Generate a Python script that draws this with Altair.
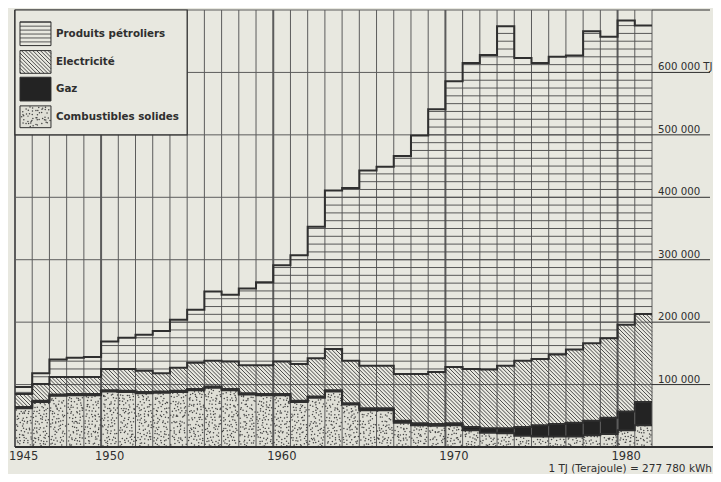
import math
import altair as alt
import pandas as pd

# ---------------- data (thousands of TJ) ----------------
years = list(range(1945, 1982))
solides = [62, 72, 82, 83, 83, 89, 88, 86, 87, 88, 91, 95, 91, 84, 83, 83, 72, 79, 89, 68,
           59, 59, 39, 35, 34, 35, 27, 23, 22, 18, 17, 17, 17, 19, 21, 27, 35]
gaz = [2] * 20 + [3, 3, 3, 3, 3, 3, 5, 7, 8, 14, 18, 20, 22, 23, 26, 30, 37]
electricite = [21, 27, 28, 27, 27, 34, 35, 34, 29, 37, 42, 41, 44, 45, 46, 52, 59, 61, 66, 68,
               68, 68, 75, 79, 83, 90, 93, 94, 100, 106, 106, 111, 117, 124, 127, 139, 141]
petrole = [11, 17, 28, 31, 32, 44, 50, 58, 68, 77, 85, 111, 107, 123, 133, 154, 174, 211, 254, 277,
           313, 319, 349, 382, 421, 458, 490, 504, 544, 485, 474, 477, 471, 500, 483, 487, 462]

series_names = ["Combustibles solides", "Gaz", "Electricité", "Produits pétroliers"]
legend_order = ["Produits pétroliers", "Electricité", "Gaz", "Combustibles solides"]
x_ticks = [1945, 1950, 1960, 1970, 1980]
y_ticks = [0, 100000, 200000, 300000, 400000, 500000, 600000, 700000]
y_label_values = [100000, 200000, 300000, 400000, 500000, 600000]
y_labels = ["100 000", "200 000", "300 000", "400 000", "500 000", "600 000 TJ"]
footnote = "1 TJ (Terajoule) = 277 780 kWh"

# ---------------- geometry / style ----------------
W, H = 637, 437
X0, X1 = 1945, 1982
YMAX = 700000
PXX = W / (X1 - X0)
PXY = H / YMAX
PAD = {"left": 7, "top": 2, "right": 61, "bottom": 27}

BG = "#e8e8e0"
INK = "#2f2f2f"
GRID = "#5c5c5c"
SOLID_FILL = "#dfdfd6"
GAS_FILL = "#232323"

# ---------------- stacked table ----------------
rows = []
for i, yr in enumerate(years):
    base = 0
    for name, vals in zip(series_names, [solides, gaz, electricite, petrole]):
        v = vals[i] * 1000
        rows.append(dict(year=yr, year_end=yr + 1, serie=name, y0=base, y1=base + v))
        base += v
stack = pd.DataFrame(rows)

orows = []
for name in series_names:
    sub = stack[stack.serie == name]
    k = 0
    for _, r in sub.iterrows():
        orows.append(dict(b=name, k=k, x=r.year, v=r.y1)); k += 1
        orows.append(dict(b=name, k=k, x=r.year_end, v=r.y1)); k += 1
outline = pd.DataFrame(orows)


# ---------------- textures ----------------
def hlines(xa, xb, va, vb, step=12500):
    out = []
    lv = (math.floor(va / step) + 1) * step
    while lv < vb - 1:
        out.append(dict(x=xa, x2=xb, y=lv))
        lv += step
    return out


def diag(xa, xb, va, vb, s=3.8):
    ax, bx = (xa - X0) * PXX, (xb - X0) * PXX
    av, bv = va * PXY, vb * PXY
    out = []
    c = math.ceil((ax + av) / s) * s
    while c < bx + bv:
        x1 = max(ax, c - bv)
        x2 = min(bx, c - av)
        if x2 - x1 > 0.3:
            out.append(dict(x=x1 / PXX + X0, y=(c - x1) / PXY,
                            x2=x2 / PXX + X0, y2=(c - x2) / PXY))
        c += s
    return out


def hashf(i, j, k):
    t = math.sin(i * 12.9898 + j * 78.233 + k * 37.719) * 43758.5453
    return t - math.floor(t)


def dots(xa, xb, va, vb, s=3.3):
    ax, bx = (xa - X0) * PXX, (xb - X0) * PXX
    av, bv = va * PXY, vb * PXY
    out = []
    for j in range(math.floor(av / s), math.ceil(bv / s) + 1):
        off = (j % 2) * s / 2
        for i in range(math.floor((ax - off) / s), math.ceil((bx - off) / s) + 1):
            px = i * s + off + (hashf(i, j, 1) - 0.5) * s * 0.9
            py = j * s + (hashf(i, j, 2) - 0.5) * s * 0.9
            if ax + 0.7 < px < bx - 0.7 and av + 0.7 < py < bv - 0.7:
                out.append(dict(x=px / PXX + X0, y=py / PXY))
    return out


hl, dg, dt = [], [], []
for _, r in stack.iterrows():
    if r.serie == "Produits pétroliers":
        hl += hlines(r.year, r.year_end, r.y0, r.y1)
    elif r.serie == "Electricité":
        dg += diag(r.year, r.year_end, r.y0, r.y1)
    elif r.serie == "Combustibles solides":
        dt += dots(r.year, r.year_end, r.y0, r.y1)

# legend (positions in data units of the chart)
lx0, lx1 = 1945.29, 1947.09
sw = {
    "Produits pétroliers": (643000, 681000, 662000),
    "Electricité": (598600, 635000, 616900),
    "Gaz": (554300, 592300, 573300),
    "Combustibles solides": (511500, 546400, 529000),
}
leg_rows = []
for name in legend_order:
    a, b, m = sw[name]
    leg_rows.append(dict(serie=name, x=lx0, x2=lx1, y=a, y2=b, tx=1947.38, ty=m))
leg = pd.DataFrame(leg_rows)
a, b, _ = sw["Produits pétroliers"]
hl += hlines(lx0, lx1, a, b, step=6300)
a, b, _ = sw["Electricité"]
dg += diag(lx0, lx1, a, b)
a, b, _ = sw["Combustibles solides"]
dt += dots(lx0, lx1, a, b)

hl = pd.DataFrame(hl)
dg = pd.DataFrame(dg)
dt = pd.DataFrame(dt)

vgrid = pd.DataFrame(dict(gx=list(range(X0, X1 + 1))))
vgrid["gw"] = [2.0 if (g % 10 == 0 or g == X0) else 1.0 for g in vgrid.gx]
hgrid = pd.DataFrame(dict(gy=y_ticks[1:]))
ticks_df = pd.DataFrame(dict(gy=y_ticks))
xlab = pd.DataFrame(dict(yr=x_ticks, xm=[t + 0.5 for t in x_ticks], lab=[str(t) for t in x_ticks]))
ylab = pd.DataFrame(dict(v=y_label_values, lab=y_labels))
legbox = pd.DataFrame(dict(x=[1945], x2=[1955], y=[500000], y2=[700000]))
foot = pd.DataFrame(dict(t=[footnote]))

xs = alt.Scale(domain=[X0, X1], nice=False, zero=False)
ys = alt.Scale(domain=[0, YMAX], nice=False, zero=False)
fill_scale = alt.Scale(domain=series_names, range=[SOLID_FILL, GAS_FILL, BG, BG])


def X(f):
    return alt.X(f, scale=xs, axis=None, title=None)


def Y(f):
    return alt.Y(f, scale=ys, axis=None, title=None)


fills = alt.Chart(stack).mark_rect().encode(
    x=X("year:Q"), x2="year_end:Q", y=Y("y0:Q"), y2="y1:Q",
    fill=alt.Fill("serie:N", legend=None, scale=fill_scale))

vg = alt.Chart(vgrid).mark_rule(color=GRID).encode(
    x=X("gx:Q"), y=alt.value(0), y2=alt.value(H),
    strokeWidth=alt.StrokeWidth("gw:Q", scale=None))
hg = alt.Chart(hgrid).mark_rule(color=GRID, strokeWidth=1).encode(
    y=Y("gy:Q"), x=alt.value(0), x2=alt.value(W))
tick_ext = alt.Chart(ticks_df).mark_rule(color=INK, strokeWidth=1).encode(
    y=Y("gy:Q"), x=alt.value(W), x2=alt.value(W + 58))

box = alt.Chart(legbox).mark_rect(fill=BG, stroke=INK, strokeWidth=1.2).encode(
    x=X("x:Q"), x2="x2:Q", y=Y("y:Q"), y2="y2:Q")

swfill = alt.Chart(leg).mark_rect().encode(
    x=X("x:Q"), x2="x2:Q", y=Y("y:Q"), y2="y2:Q",
    fill=alt.Fill("serie:N", legend=None, scale=fill_scale))

hlm = alt.Chart(hl).mark_rule(color="#474747", strokeWidth=0.9).encode(
    x=X("x:Q"), x2="x2:Q", y=Y("y:Q"))
dgm = alt.Chart(dg).mark_rule(color="#3a3a3a", strokeWidth=0.9).encode(
    x=X("x:Q"), x2="x2:Q", y=Y("y:Q"), y2="y2:Q")
dtm = alt.Chart(dt).mark_circle(color="#3a3a3a", size=2.2, opacity=0.95).encode(
    x=X("x:Q"), y=Y("y:Q"))

ol = alt.Chart(outline).mark_line(color=INK, strokeWidth=2, strokeJoin="miter").encode(
    x=X("x:Q"), y=Y("v:Q"), detail="b:N", order="k:Q")

base_line = alt.Chart(foot).mark_rule(color=INK, strokeWidth=2).encode(
    x=alt.value(0), x2=alt.value(W + PAD["right"]), y=alt.value(H))

swbox = alt.Chart(leg).mark_rect(fill=None, stroke=INK, strokeWidth=1).encode(
    x=X("x:Q"), x2="x2:Q", y=Y("y:Q"), y2="y2:Q")

legtext = alt.Chart(leg).mark_text(align="left", baseline="middle", font="DejaVu Sans",
                                   fontWeight="bold", fontSize=10.3, color=INK).encode(
    x=X("tx:Q"), y=Y("ty:Q"), text="serie:N")

xtext = alt.Chart(xlab).mark_text(align="center", baseline="alphabetic", font="DejaVu Sans",
                                  fontSize=11.5, color=INK).encode(
    x=X("xm:Q"), y=alt.value(H + 12.5), text="lab:N")

ytext = alt.Chart(ylab).mark_text(align="left", baseline="alphabetic", font="DejaVu Sans",
                                  fontSize=10.2, color=INK, dy=-2).encode(
    x=alt.value(W + 6), y=Y("v:Q"), text="lab:N")

foottext = alt.Chart(foot).mark_text(align="right", baseline="alphabetic", font="DejaVu Sans",
                                     fontSize=10.5, color=INK).encode(
    x=alt.value(W + PAD["right"] - 1), y=alt.value(H + 24.8), text="t:N")

chart = alt.layer(
    fills, vg, hg, tick_ext, box, swfill, hlm, dgm, dtm, ol, base_line, swbox,
    legtext, xtext, ytext, foottext
).properties(
    width=W, height=H,
    padding=PAD,
    autosize=alt.AutoSizeParams(type="none"),
    background=BG,
).configure_view(stroke=None)

chart.save("out.html", embed_options={"renderer": "svg", "actions": False})
